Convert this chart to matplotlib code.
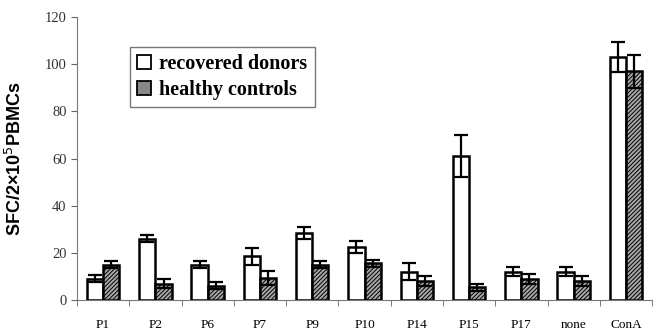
import numpy as np
import matplotlib.pyplot as plt
from matplotlib.patches import Patch

categories = ["P1", "P2", "P6", "P7", "P9", "P10", "P14", "P15", "P17", "none", "ConA"]
recovered = [9, 26, 15, 18.5, 28.5, 22.5, 12, 61, 12, 12, 103]
recovered_err = [1.5, 1.5, 1.5, 3.5, 2.5, 2.5, 3.5, 9, 2, 2, 6.5]
healthy = [15, 7, 6, 9.5, 15, 15.5, 8, 5.5, 9, 8, 97]
healthy_err = [1.5, 2, 1.5, 3, 1.5, 1.5, 2, 1.5, 2, 2, 7]

plt.rcParams['hatch.color'] = '#555555'
plt.rcParams['hatch.linewidth'] = 0.7

fig = plt.figure(figsize=(6.58, 3.33), dpi=100)
ax = fig.add_axes([0.117, 0.099, 0.874, 0.85])

x = np.arange(len(categories))
w = 0.31
ebar = dict(ecolor='black', elinewidth=1.6, capsize=5, capthick=1.6)
ax.bar(x - w/2, recovered, w, yerr=recovered_err, color='white',
       edgecolor='black', linewidth=1.8, error_kw=ebar, zorder=2)
ax.bar(x + w/2, healthy, w, yerr=healthy_err, color='#a8a8a8',
       edgecolor='black', linewidth=1.8, hatch='////////', error_kw=ebar, zorder=2)

ax.set_xlim(-0.5, len(categories) - 0.5)
ax.set_ylim(0, 120)
ax.set_yticks(range(0, 121, 20))
ax.set_xticks(x)
ax.set_xticklabels(categories, family='Liberation Serif', fontsize=9.5)
ax.set_xticks(np.arange(-0.5, len(categories), 1), minor=True)
ax.tick_params(axis='x', which='major', length=0, pad=14)
ax.tick_params(axis='x', which='minor', length=4, direction='out', color='#666666')
ax.tick_params(axis='y', length=4, color='#666666')
for lab in ax.get_yticklabels():
    lab.set_family('Liberation Serif')
    lab.set_fontsize(10.5)
    lab.set_color('#333333')

for s in ['top', 'right']:
    ax.spines[s].set_visible(False)
for s in ['left', 'bottom']:
    ax.spines[s].set_color('#777777')

ax.set_ylabel("SFC/2×10$^5$PBMCs", fontsize=13, fontweight='bold',
              family='Liberation Sans', labelpad=14)

handles = [Patch(facecolor='white', edgecolor='black', linewidth=1.3),
           Patch(facecolor='#888888', edgecolor='black', linewidth=1.3)]
leg = ax.legend(handles, ["recovered donors", "healthy controls"],
                loc='upper left', bbox_to_anchor=(0.075, 0.93),
                prop={'family': 'Liberation Serif', 'weight': 'bold', 'size': 14.5},
                frameon=True, fancybox=False, handlelength=0.7, handleheight=0.7,
                handletextpad=0.4, borderpad=0.35, labelspacing=0.3)
leg.get_frame().set_edgecolor('#555555')
leg.get_frame().set_linewidth(1.0)

fig.savefig("out.png", dpi=100)
